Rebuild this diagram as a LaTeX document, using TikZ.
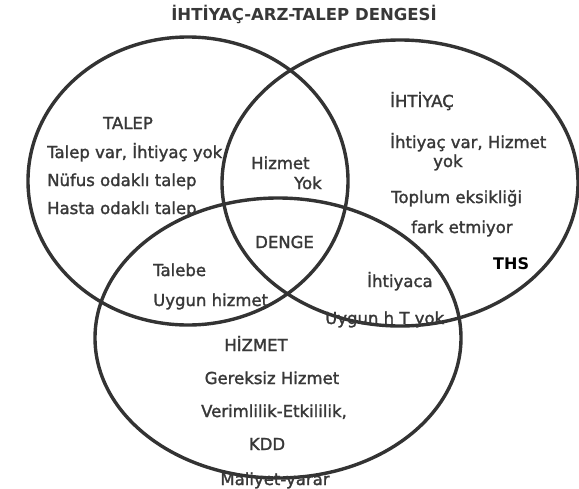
\documentclass[tikz,border=0pt]{standalone}
\usepackage{fontspec}
\setmainfont{DejaVu Sans}
\newfontfamily\kalin{DejaVu Sans}[FakeBold=1.6]
\tikzset{
  ring/.style={draw=black!80, line width=3.4pt},
  lbl/.style={text=black!78, font=\kalin\fontsize{16.5}{18}\selectfont, inner sep=0pt, anchor=base west},
  head/.style={lbl, anchor=base}
}
\begin{document}
\begin{tikzpicture}[x=1pt, y=-1pt]
\useasboundingbox (0,0) rectangle (579,488);
\fill[white] (0,0) rectangle (579,488);
% uc halka
\draw[ring] (188,181) ellipse [x radius=160, y radius=144];
\draw[ring] (400,183) ellipse [x radius=178, y radius=143];
\draw[ring] (278,338) ellipse [x radius=183, y radius=140];
% baslik
\node[head, font=\bfseries\fontsize{16.5}{18}\selectfont] (baslik) at (304,20) {İHTİYAÇ-ARZ-TALEP DENGESİ};
% talep
\node[head] (talep) at (128,129) {TALEP};
\node[lbl] (talep1) at (47,158) {Talep var, İhtiyaç yok};
\node[lbl] (talep2) at (47,186) {Nüfus odaklı talep};
\node[lbl] (talep3) at (47,214) {Hasta odaklı talep};
% ihtiyac
\node[lbl] (ihtiyac) at (390,107) {İHTİYAÇ};
\node[lbl] (ihtiyac1) at (390,148) {İhtiyaç var,  Hizmet};
\node[lbl] (ihtiyac2) at (433,167) {yok};
\node[lbl] (ihtiyac3) at (391,203) {Toplum eksikliği};
\node[lbl] (ihtiyac4) at (411,233) {fark etmiyor};
\node[lbl, text=black, font=\bfseries\fontsize{16}{18}\selectfont] (ths) at (493,269) {THS};
% kesisimler
\node[lbl] (kes1) at (251,169) {Hizmet};
\node[lbl] (kes2) at (294,189) {Yok};
\node[lbl] (denge) at (255,248) {DENGE};
\node[lbl] (kes3) at (153,276) {Talebe};
\node[lbl] (kes4) at (153,306) {Uygun hizmet};
\node[lbl] (kes5) at (367,287) {İhtiyaca};
\node[lbl] (kes6) at (325,324) {Uygun h T yok};
% hizmet
\node[head] (hizmet) at (256,351) {HİZMET};
\node[head] (hizmet1) at (272,384) {Gereksiz  Hizmet};
\node[head] (hizmet2) at (274,417) {Verimlilik-Etkililik,};
\node[head] (hizmet3) at (267,450) {KDD};
\node[head] (hizmet4) at (275,485) {Maliyet-yarar};
\end{tikzpicture}
\end{document}
